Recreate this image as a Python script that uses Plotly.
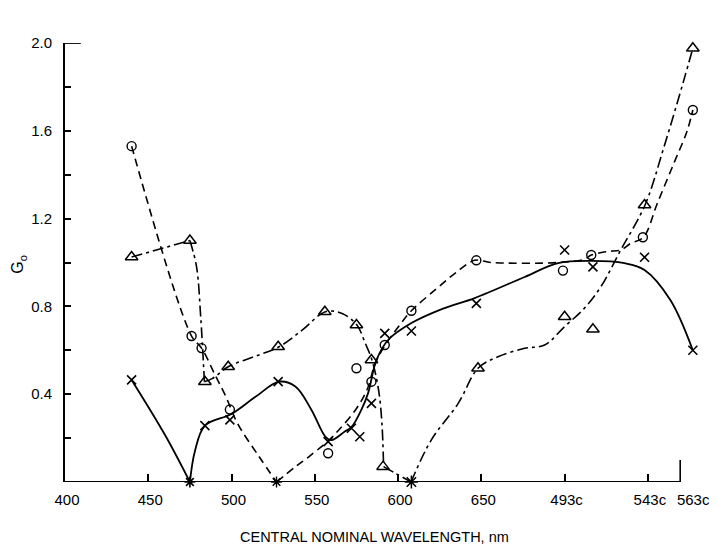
import plotly.graph_objects as go

# ---------------- data ----------------
# x-axis positions of the nominal-wavelength categories (c = complementary)
tick_pos = [400, 450, 500, 550, 600, 650, 700, 750, 776]
tick_text = ["400", "450", "500", "550", "600", "650", "493c", "543c", "563c"]
tick_marks = [450, 500, 550, 600, 650, 700, 750]
y_major = [0.4, 0.8, 1.2, 1.6, 2.0]
y_minor = [0.2, 0.6, 1.0, 1.4, 1.8]

# series "x" (solid curve)
x_pts_wl = [440, 475, 484, 499, 528, 558, 572, 577, 584, 592, 608, 647, 700, 717, 748, 777]
x_pts_g = [0.465, 0.0, 0.257, 0.283, 0.457, 0.184, 0.245, 0.206, 0.358, 0.677, 0.688, 0.814, 1.057, 0.98, 1.024, 0.60]
x_curve_wl = [440, 460, 475, None,
              475, 478, 484, 500, 514.6, 528.5, 538.5, 548, 556.4, 560, 568, 572, 578, 582, 587,
              594, 608, 627, 646, 676, 696, 716, 736, 748, 763.5, 777]
x_curve_g = [0.465, 0.215, 0.0, None,
             0.0, 0.14, 0.257, 0.31, 0.389, 0.457, 0.434, 0.328, 0.206, 0.191, 0.23, 0.25, 0.33, 0.405, 0.555,
             0.647, 0.724, 0.79, 0.838, 0.934, 0.997, 1.007, 0.997, 0.966, 0.829, 0.60]

# series "o" (dashed curve)
o_pts_wl = [440, 476, 482, 499, 527, 558, 575, 584, 592, 608, 647, 699, 716, 747, 777]
o_pts_g = [1.53, 0.665, 0.61, 0.33, 0.0, 0.131, 0.518, 0.457, 0.624, 0.78, 1.01, 0.963, 1.034, 1.115, 1.695]
o_curve_wl = [440, 476, 482, 490.6, 496.6, 503.6, 516.6, 527, None,
              527, 538.5, 546.4, 558.4, 564.4, 574.4, 581.3, 586.3, 592.3, 600.2, 608, 622.2, 634.1,
              646, 656, 696, 711.8, 716, 725.8, 733.7, 739.7, 747.3, 755.7, 765.6, 773.6, 777]
o_curve_g = [1.53, 0.665, 0.61, 0.48, 0.389, 0.267, 0.115, 0.0, None,
             0.0, 0.07, 0.115, 0.19, 0.237, 0.328, 0.419, 0.54, 0.624, 0.707, 0.78, 0.875, 0.95,
             1.01, 1.0, 1.0, 1.015, 1.034, 1.05, 1.057, 1.087, 1.115, 1.27, 1.452, 1.60, 1.695]

# series "triangle" (dash-dot curve)
t_pts_wl = [440, 475, 484, 498, 528, 556, 575, 584, 591, 608, 648, 700, 717, 748, 777]
t_pts_g = [1.025, 1.10, 0.457, 0.525, 0.616, 0.776, 0.715, 0.556, 0.07, 0.0, 0.518, 0.753, 0.696, 1.262, 1.976]
t_curve_wl = [440, 475, None,
              475, 479, 481.5, 483.7, None,
              483.7, 488.6, 498, 513.6, 528.5, 542.4, 556.4, 566.4, 575.3, 580.3, 584.3, 588.3, 590.3, 591.3, None,
              591.3, 598.3, 607.8, None,
              607.8, 619.8, 636.1, 648, 660, 676, 688, 700, 711.8, 721.8, 733.7, 748.3, 759.7, 771.6, 777]
t_curve_g = [1.025, 1.10, None,
             1.10, 0.98, 0.75, 0.457, None,
             0.457, 0.472, 0.525, 0.571, 0.616, 0.692, 0.776, 0.768, 0.715, 0.632, 0.556, 0.419, 0.267, 0.07, None,
             0.07, 0.04, 0.0, None,
             0.0, 0.19, 0.358, 0.518, 0.571, 0.609, 0.624, 0.708, 0.791, 0.89, 1.057, 1.262, 1.527, 1.831, 1.976]

# ---------------- figure ----------------
FONT = "Arial, Liberation Sans, sans-serif"
INK = "black"
AXIS_END = 769.4
PAGE_PAD = 8  # default body margin of the html page


def syms(values, base):
    return ["asterisk-open" if v == 0 else base for v in values]


fig = go.Figure()

fig.add_trace(go.Scatter(x=x_curve_wl, y=x_curve_g, mode="lines",
                         line=dict(color=INK, width=1.8, shape="spline", smoothing=1.0),
                         connectgaps=False, hoverinfo="skip"))
fig.add_trace(go.Scatter(x=o_curve_wl, y=o_curve_g, mode="lines",
                         line=dict(color=INK, width=1.6, dash="8px,5px", shape="spline", smoothing=1.0),
                         connectgaps=False, hoverinfo="skip"))
fig.add_trace(go.Scatter(x=t_curve_wl, y=t_curve_g, mode="lines",
                         line=dict(color=INK, width=1.6, dash="11px,4px,3px,4px", shape="spline", smoothing=1.0),
                         connectgaps=False, hoverinfo="skip"))

fig.add_trace(go.Scatter(x=x_pts_wl, y=x_pts_g, mode="markers", cliponaxis=False,
                         marker=dict(symbol=syms(x_pts_g, "x-thin-open"), size=9,
                                     color=INK, line=dict(color=INK, width=1.6))))
fig.add_trace(go.Scatter(x=o_pts_wl, y=o_pts_g, mode="markers", cliponaxis=False,
                         marker=dict(symbol=syms(o_pts_g, "circle-open"), size=9,
                                     color=INK, line=dict(color=INK, width=1.4))))
fig.add_trace(go.Scatter(x=t_pts_wl, y=t_pts_g, mode="markers", cliponaxis=False,
                         marker=dict(symbol=syms(t_pts_g, "triangle-up-open"), size=11,
                                     color=INK, line=dict(color=INK, width=1.5))))

# x axis baseline with its end stub, and the long bar at the top of the y axis
fig.add_shape(type="line", xref="x", yref="y", x0=400, x1=AXIS_END, y0=0, y1=0,
              line=dict(color=INK, width=1.8))
fig.add_shape(type="line", xref="x", yref="y", x0=AXIS_END, x1=AXIS_END, y0=0, y1=0.1,
              line=dict(color=INK, width=1.6))
fig.add_shape(type="line", xref="x", yref="y", x0=400, x1=409.5, y0=2.0, y1=2.0,
              line=dict(color=INK, width=1.8))

fig.add_annotation(text="CENTRAL NOMINAL WAVELENGTH, nm", xref="x", yref="paper",
                   x=586, y=0, yshift=-55, showarrow=False,
                   xanchor="center", yanchor="middle",
                   font=dict(family=FONT, size=14.5, color=INK))
fig.add_annotation(text="G<sub>o</sub>", xref="paper", yref="y", x=0, xshift=-46,
                   y=0.99, showarrow=False, textangle=-90,
                   xanchor="center", yanchor="middle",
                   font=dict(family=FONT, size=16, color=INK))

fig.update_layout(
    width=717 - PAGE_PAD, height=550 - PAGE_PAD,
    margin=dict(l=65 - PAGE_PAD, r=7, t=43 - PAGE_PAD, b=68),
    paper_bgcolor="white", plot_bgcolor="white",
    showlegend=False,
    font=dict(family=FONT, color=INK),
    xaxis=dict(range=[400, 785.5], showgrid=False, zeroline=False, showline=False,
               tickmode="array", tickvals=tick_pos, ticktext=tick_text, ticks="",
               tickfont=dict(size=15, color=INK), ticklabelstandoff=7, ticklabelshift=2,
               ticklabeloverflow="allow",
               minor=dict(tickmode="array", tickvals=tick_marks, ticks="inside",
                          ticklen=8, tickwidth=1.5, tickcolor=INK, showgrid=False)),
    yaxis=dict(range=[0, 2.0], showgrid=False, zeroline=False, showline=True,
               linecolor=INK, linewidth=1.8,
               tickmode="array", tickvals=y_major, ticktext=["%.1f" % v for v in y_major],
               ticks="inside", ticklen=6, tickwidth=1.5, tickcolor=INK,
               tickfont=dict(size=15, color=INK), ticklabelstandoff=8,
               minor=dict(tickmode="array", tickvals=y_minor, ticks="inside",
                          ticklen=6, tickwidth=1.5, tickcolor=INK, showgrid=False)),
)

fig.write_html("out.html")
